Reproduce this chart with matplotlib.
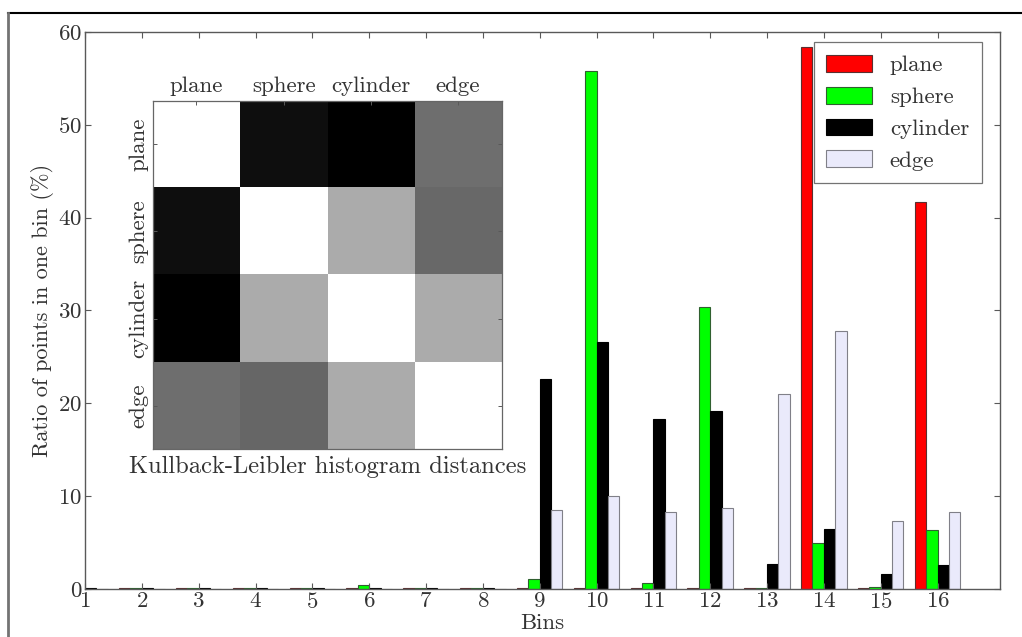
import numpy as np
import matplotlib
matplotlib.use("Agg")
import matplotlib.pyplot as plt
from matplotlib.lines import Line2D

plt.rcParams['font.family'] = 'cmr10'
plt.rcParams['axes.formatter.use_mathtext'] = True

# Percentage of points falling in each curvature bin, per surface type
bins = np.arange(1, 17)
plane = [0.1, 0.1, 0.1, 0.1, 0.1, 0.1, 0.1, 0.1, 0.1, 0.1, 0.1, 0.1, 0.1, 58.4, 0.1, 41.7]
sphere = [0.1, 0.1, 0.1, 0.1, 0.1, 0.4, 0.1, 0.1, 1.05, 55.8, 0.6, 30.4, 0.1, 5.0, 0.2, 6.35]
cylinder = [0.1, 0.1, 0.1, 0.1, 0.1, 0.1, 0.1, 0.1, 22.6, 26.6, 18.3, 19.2, 2.7, 6.5, 1.65, 2.6]
edge = [0, 0, 0, 0, 0, 0, 0, 0, 8.5, 10.05, 8.3, 8.7, 21.0, 27.8, 7.3, 8.3]

series_names = ['plane', 'sphere', 'cylinder', 'edge']
series_colors = ['#ff0000', '#00ff00', '#000000', '#eaeafb']
series_edges = ['#5a3030', '#306030', '#000000', '#808088']

# Kullback-Leibler distances between the histograms (shown as grey levels)
kl_labels = ['plane', 'sphere', 'cylinder', 'edge']
kl_matrix = [[1.0, 0.055, 0.0, 0.43],
             [0.055, 1.0, 0.67, 0.41],
             [0.0, 0.67, 1.0, 0.67],
             [0.43, 0.40, 0.67, 1.0]]

FS = 16.5

fig = plt.figure(figsize=(10.22, 6.37), dpi=100)
ax = fig.add_axes([0.0832, 0.0754, 0.8953, 0.8744])

width = 0.2
for k, vals in enumerate([plane, sphere, cylinder, edge]):
    ax.bar(bins - 0.4 + k * width, vals, width=width, align='edge',
           color=series_colors[k], edgecolor=series_edges[k], linewidth=0.8,
           label=series_names[k])

ax.set_xlim(1, 17.1)
ax.set_ylim(0, 60)
ax.set_xticks(bins)
ax.set_yticks(range(0, 61, 10))
ax.tick_params(direction='in', top=True, right=True, length=4, width=0.8,
               labelsize=FS, colors='0.35', labelcolor='0.2', pad=2)
ax.tick_params(axis='y', pad=2)
for sp in ax.spines.values():
    sp.set_color('0.35')
    sp.set_linewidth(1.0)
ax.set_xlabel('Bins', fontsize=FS, color='0.2', labelpad=1)
ax.set_ylabel('Ratio of points in one bin (%)', fontsize=16, color='0.2', labelpad=3)

leg = ax.legend(loc='upper right', bbox_to_anchor=(0.980, 0.9815), fontsize=FS,
                fancybox=False, framealpha=1, edgecolor='0.45', borderpad=0.55,
                labelspacing=0.5, handlelength=2.0, handleheight=0.75,
                handletextpad=0.77, borderaxespad=0)
leg.get_frame().set_linewidth(0.9)
for t in leg.get_texts():
    t.set_color('0.2')

# inset with the distance matrix
ins = fig.add_axes([0.1494, 0.2947, 0.3415, 0.5473])
ins.imshow(kl_matrix, cmap='gray', vmin=0, vmax=1, interpolation='nearest', aspect='auto')
ins.set_xticks(range(4))
ins.set_yticks(range(4))
ins.set_xticklabels(kl_labels)
ins.set_yticklabels(kl_labels, rotation=90, va='center')
ins.tick_params(direction='in', top=True, bottom=False, right=True, left=True,
                labeltop=True, labelbottom=False, length=3, width=0.7,
                labelsize=FS, colors='0.35', labelcolor='0.2', pad=3)
ins.xaxis.set_label_position('bottom')
ins.set_xlabel('Kullback-Leibler histogram distances', fontsize=17.7, color='0.2', labelpad=5)
for sp in ins.spines.values():
    sp.set_color('0.4')
    sp.set_linewidth(0.9)

# page frame around the figure
fig.add_artist(Line2D([8 / 1022, 1], [1 - 12.5 / 637, 1 - 12.5 / 637],
                      transform=fig.transFigure, color='black', lw=1.5))
fig.add_artist(Line2D([8 / 1022, 8 / 1022], [0, 1 - 12.5 / 637],
                      transform=fig.transFigure, color='0.45', lw=2))

fig.savefig('out.png', dpi=100)
